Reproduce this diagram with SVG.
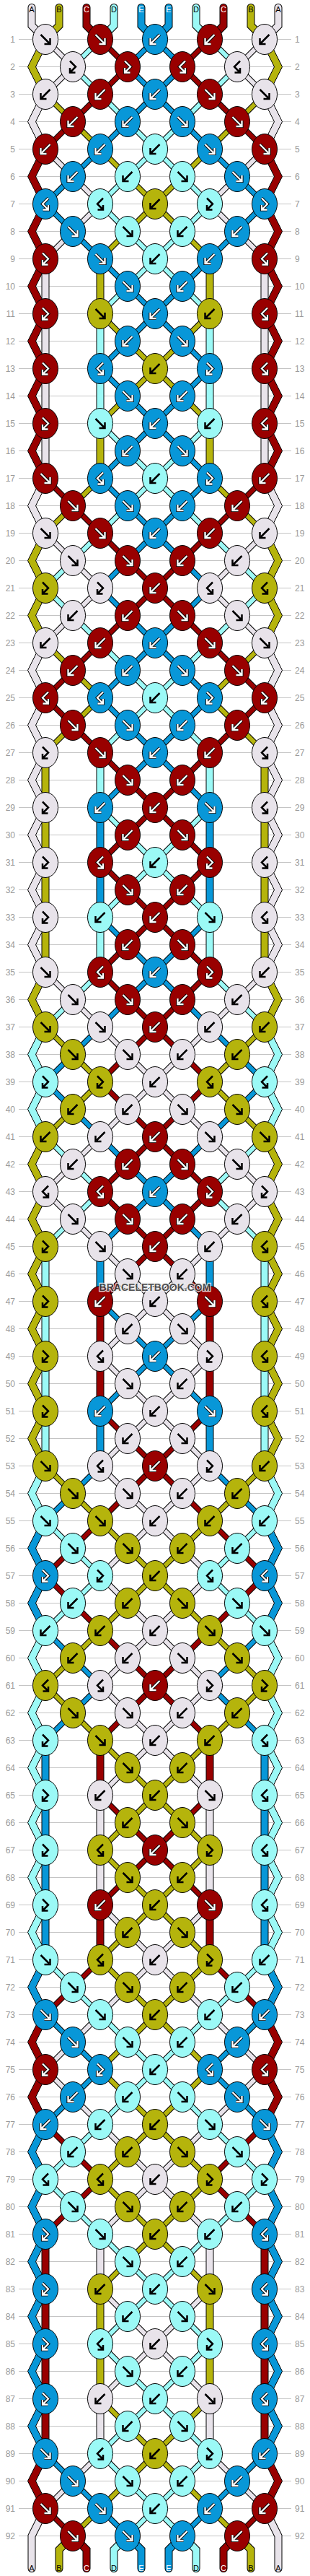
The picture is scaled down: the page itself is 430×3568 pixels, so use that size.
<svg xmlns="http://www.w3.org/2000/svg" width="430" height="3568" viewBox="0 0 430 3568">
<style>
.kL{fill:#E8E3EA}.kO{fill:#B5B40C}.kR{fill:#990000}.kC{fill:#9BF9F6}.kU{fill:#0897D8}
.sL{stroke:#E8E3EA}.sO{stroke:#B5B40C}.sR{stroke:#990000}.sC{stroke:#9BF9F6}.sU{stroke:#0897D8}
.ob{stroke:#000}
.d{fill:none;stroke-width:6}.d.ob{stroke-width:8}
.t{fill:none;stroke-width:9;stroke-linecap:round}.t.ob{stroke-width:11}
ellipse{stroke:#000;stroke-width:1}
.zz{stroke:#000;stroke-width:1}
.ak{fill:none;stroke:#000;stroke-width:2.5}
.ao{fill:none;stroke:#000;stroke-width:4.2}
.aw{fill:none;stroke:#fff;stroke-width:2.3}
.rl{stroke:#C4C4C4;stroke-width:1;fill:none}
.rn{font-family:"Liberation Sans",Arial,sans-serif;font-size:12px;fill:#9A9A9A}
.lb{font-family:"Liberation Sans",Arial,sans-serif;font-size:11px;text-anchor:middle}
.wm{font-family:"Liberation Sans",Arial,sans-serif;font-size:14px;font-weight:bold;text-anchor:middle;fill:#3C3C3C;stroke:#F0F0F0;stroke-width:2.5;paint-order:stroke;opacity:0.85}
</style>
<defs>
<path id="af" d="M-6.5-6.5L5 5M6.5-1.5V6.5H-1.5"/>
<path id="ab" d="M6.5-6.5L-5 5M-6.5-1.5V6.5H1.5"/>
<path id="aF" d="M-4-8L4 0-4 8M-4 1.5V8H3.5"/>
<path id="aB" d="M4-8L-4 0 4 8M4 1.5V8H-3.5"/>
<ellipse id="eL" class="kL" rx="17.5" ry="21"/>
<ellipse id="eO" class="kO" rx="17.5" ry="21"/>
<ellipse id="eR" class="kR" rx="17.5" ry="21"/>
<ellipse id="eC" class="kC" rx="17.5" ry="21"/>
<ellipse id="eU" class="kU" rx="17.5" ry="21"/>
<g id="Lf"><use href="#eL"/><use href="#af" class="ak"/></g>
<g id="Lb"><use href="#eL"/><use href="#ab" class="ak"/></g>
<g id="LF"><use href="#eL"/><use href="#aF" class="ak"/></g>
<g id="LB"><use href="#eL"/><use href="#aB" class="ak"/></g>
<g id="Of"><use href="#eO"/><use href="#af" class="ak"/></g>
<g id="Ob"><use href="#eO"/><use href="#ab" class="ak"/></g>
<g id="OF"><use href="#eO"/><use href="#aF" class="ak"/></g>
<g id="OB"><use href="#eO"/><use href="#aB" class="ak"/></g>
<g id="Cf"><use href="#eC"/><use href="#af" class="ak"/></g>
<g id="Cb"><use href="#eC"/><use href="#ab" class="ak"/></g>
<g id="CF"><use href="#eC"/><use href="#aF" class="ak"/></g>
<g id="CB"><use href="#eC"/><use href="#aB" class="ak"/></g>
<g id="Rf"><use href="#eR"/><use href="#af" class="ao"/><use href="#af" class="aw"/></g>
<g id="Rb"><use href="#eR"/><use href="#ab" class="ao"/><use href="#ab" class="aw"/></g>
<g id="RF"><use href="#eR"/><use href="#aF" class="ao"/><use href="#aF" class="aw"/></g>
<g id="RB"><use href="#eR"/><use href="#aB" class="ao"/><use href="#aB" class="aw"/></g>
<g id="Uf"><use href="#eU"/><use href="#af" class="ao"/><use href="#af" class="aw"/></g>
<g id="Ub"><use href="#eU"/><use href="#ab" class="ao"/><use href="#ab" class="aw"/></g>
<g id="UF"><use href="#eU"/><use href="#aF" class="ao"/><use href="#aF" class="aw"/></g>
<g id="UB"><use href="#eU"/><use href="#aB" class="ao"/><use href="#aB" class="aw"/></g>
<polygon id="z" class="zz" points="57.5,0 38.5,38 57.5,76 68.5,76 49.5,38 68.5,0"/>
<path id="tL" d="M44 -6V19L63 38M63 342V646M139 2470V2622M139 3078V3154M139 3306V3382M63 3458L44 3496V3541"/>
<path id="tO" d="M82 -6V19L63 38M63 1026V1330M139 342V418M139 570V646M139 3154V3306M101 3496l-19 19V3541"/>
<path id="tR" d="M120 -6V19L139 38M63 3078V3382M139 1786V1938M139 2394V2470M139 2622V2698M101 3496l19 19V3541"/>
<path id="tC" d="M158 -6V19L139 38M63 1710V2014M139 418V570M139 1026V1102M139 1254V1330M177 3496l-19 19V3541"/>
<path id="tU" d="M196 -6V19L215 38M63 2394V2698M139 1102V1254M139 1710V1786M139 1938V2014M177 3496l19 19V3541"/>
<path id="dL" d="M63 38l38 38-38 38M63 190l38 38M101 304l-38 38M63 722l38 38M101 836l-38 38M63 1330l38 38M101 1596l-38 38 38 38M101 2812l-38 38 38 38M101 3420l-38 38M101 228l38 38-38 38M101 760l38 38-38 38M101 1368l38 38M139 1558l-38 38M101 1672l38 38M139 2774l-38 38M101 2888l38 38M139 3382l-38 38M139 1406l38 38M177 1520l-38 38M139 1710l38 38M177 1824l-38 38 38 38M177 1976l-38 38 38 38M177 2128l-38 38 38 38M177 2280l-38 38 38 38M177 2432l-38 38M139 2622l38 38M177 2736l-38 38M139 2926l38 38M177 3040l-38 38M139 3154l38 38M177 3268l-38 38M177 1444l38 38-38 38M177 1748l38 38-38 38M177 1900l38 38-38 38M177 2052l38 38-38 38M177 2204l38 38-38 38M177 2356l38 38-38 38M177 2660l38 38-38 38M177 2964l38 38-38 38M177 3192l38 38-38 38"/>
<path id="dO" d="M63 114l38 38M101 684l-38 38M63 874l38 38M101 988l-38 38M63 1406l38 38M101 1520l-38 38M63 2014l38 38M101 2280l-38 38 38 38M101 152l38 38M139 646l-38 38M101 912l38 38-38 38M101 1444l38 38-38 38M101 2052l38 38M139 2242l-38 38M101 2356l38 38M139 3458l-38 38M139 190l38 38M177 304l-38 38M139 418l38 38M177 532l-38 38M139 2090l38 38M177 2204l-38 38M139 2394l38 38M177 2508l-38 38 38 38M177 2660l-38 38 38 38M177 2812l-38 38 38 38M177 2964l-38 38 38 38M177 3116l-38 38M139 3306l38 38M177 3420l-38 38M177 228l38 38-38 38M177 456l38 38-38 38M177 2128l38 38-38 38M177 2432l38 38-38 38M177 2584l38 38-38 38M177 2736l38 38-38 38M177 2888l38 38-38 38M177 3040l38 38-38 38M177 3344l38 38-38 38"/>
<path id="dR" d="M101 152l-38 38M63 646l38 38M101 912l-38 38 38 38M101 2128l-38 38 38 38M101 2736l-38 38M63 2926l38 38M101 3040l-38 38M63 3458l38 38M139 114l-38 38M101 684l38 38M139 874l-38 38M101 988l38 38M139 2090l-38 38M101 2204l38 38M139 2698l-38 38M101 2964l38 38-38 38M139 38l38 38-38 38M139 722l38 38M177 836l-38 38M139 1026l38 38M177 1140l-38 38 38 38M177 1292l-38 38 38 38M177 1444l-38 38 38 38M177 1596l-38 38 38 38M177 1748l-38 38M139 1938l38 38M177 2052l-38 38M139 2242l38 38M177 2356l-38 38M139 2470l38 38M177 2584l-38 38M177 760l38 38-38 38M177 1064l38 38-38 38M177 1216l38 38-38 38M177 1368l38 38-38 38M177 1520l38 38-38 38M177 1672l38 38-38 38M177 1976l38 38-38 38M177 2280l38 38-38 38M177 2508l38 38-38 38"/>
<path id="dC" d="M101 760l-38 38 38 38M101 1368l-38 38M63 1558l38 38M101 1672l-38 38M63 2090l38 38M101 2204l-38 38M63 2698l38 38M101 2964l-38 38 38 38M139 38l-38 38 38 38M139 722l-38 38M101 836l38 38M139 1330l-38 38M101 1596l38 38-38 38M101 2128l38 38-38 38M101 2736l38 38M139 2926l-38 38M101 3040l38 38M139 114l38 38M177 228l-38 38 38 38M177 380l-38 38M139 570l38 38M177 684l-38 38M139 874l38 38M177 988l-38 38M139 1102l38 38M177 1216l-38 38M139 2774l38 38M177 2888l-38 38M139 3078l38 38M177 3192l-38 38 38 38M177 3344l-38 38 38 38M177 152l38 38-38 38M177 304l38 38-38 38M177 608l38 38-38 38M177 912l38 38-38 38M177 1140l38 38-38 38M177 2812l38 38-38 38M177 3116l38 38-38 38M177 3268l38 38-38 38M177 3420l38 38-38 38"/>
<path id="dU" d="M101 228l-38 38 38 38M101 1444l-38 38 38 38M101 2052l-38 38M63 2242l38 38M101 2356l-38 38M63 2774l38 38M101 2888l-38 38M63 3382l38 38M139 190l-38 38M101 304l38 38M139 1406l-38 38M101 1520l38 38M139 2014l-38 38M101 2280l38 38-38 38M101 2812l38 38-38 38M101 3420l38 38M177 152l-38 38M139 342l38 38M177 456l-38 38 38 38M177 608l-38 38 38 38M177 760l-38 38 38 38M177 912l-38 38 38 38M177 1064l-38 38M139 1254l38 38M177 1368l-38 38M139 1558l38 38M177 1672l-38 38M139 1786l38 38M177 1900l-38 38M139 3458l38 38M215 38L177 76l38 38-38 38M177 380l38 38-38 38M177 532l38 38-38 38M177 684l38 38-38 38M177 836l38 38-38 38M177 988l38 38-38 38M177 1292l38 38-38 38M177 1596l38 38-38 38M177 1824l38 38-38 38"/>
</defs>
<rect width="430" height="3568" fill="#fff"/>
<g id="rowlines" transform="translate(0,16.5)">
<path class="rl" d="M26 38H404M26 76H404M26 114H404M26 152H404M26 190H404M26 228H404M26 266H404M26 304H404M26 342H404M26 380H404M26 418H404M26 456H404M26 494H404M26 532H404M26 570H404M26 608H404M26 646H404M26 684H404M26 722H404M26 760H404M26 798H404M26 836H404M26 874H404M26 912H404M26 950H404M26 988H404M26 1026H404M26 1064H404M26 1102H404M26 1140H404M26 1178H404M26 1216H404M26 1254H404M26 1292H404M26 1330H404M26 1368H404M26 1406H404M26 1444H404M26 1482H404M26 1520H404M26 1558H404M26 1596H404M26 1634H404M26 1672H404M26 1710H404M26 1748H404M26 1786H404M26 1824H404M26 1862H404M26 1900H404M26 1938H404M26 1976H404M26 2014H404M26 2052H404M26 2090H404M26 2128H404M26 2166H404M26 2204H404M26 2242H404M26 2280H404M26 2318H404M26 2356H404M26 2394H404M26 2432H404M26 2470H404M26 2508H404M26 2546H404M26 2584H404M26 2622H404M26 2660H404M26 2698H404M26 2736H404M26 2774H404M26 2812H404M26 2850H404M26 2888H404M26 2926H404M26 2964H404M26 3002H404M26 3040H404M26 3078H404M26 3116H404M26 3154H404M26 3192H404M26 3230H404M26 3268H404M26 3306H404M26 3344H404M26 3382H404M26 3420H404M26 3458H404M26 3496H404"/>
</g>
<g id="strings" transform="translate(0,16.5)">
<g id="sl">
<use href="#tL" class="t ob"/><use href="#tO" class="t ob"/><use href="#tR" class="t ob"/><use href="#tC" class="t ob"/><use href="#tU" class="t ob"/>
<use href="#dL" class="d ob"/><use href="#dO" class="d ob"/><use href="#dR" class="d ob"/><use href="#dC" class="d ob"/><use href="#dU" class="d ob"/>
<use href="#tL" class="t sL"/><use href="#tO" class="t sO"/><use href="#tR" class="t sR"/><use href="#tC" class="t sC"/><use href="#tU" class="t sU"/>
<use href="#dL" class="d sL"/><use href="#dO" class="d sO"/><use href="#dR" class="d sR"/><use href="#dC" class="d sC"/><use href="#dU" class="d sU"/>
<use href="#z" y="38" class="kO"/><use href="#z" y="114" class="kL"/><use href="#z" y="190" class="kR"/><use href="#z" y="266" class="kR"/><use href="#z" y="342" class="kR"/><use href="#z" y="418" class="kR"/><use href="#z" y="494" class="kR"/><use href="#z" y="570" class="kR"/><use href="#z" y="646" class="kL"/><use href="#z" y="722" class="kO"/><use href="#z" y="798" class="kO"/><use href="#z" y="874" class="kL"/><use href="#z" y="950" class="kL"/><use href="#z" y="1026" class="kL"/><use href="#z" y="1102" class="kL"/><use href="#z" y="1178" class="kL"/><use href="#z" y="1254" class="kL"/><use href="#z" y="1330" class="kO"/><use href="#z" y="1406" class="kC"/><use href="#z" y="1482" class="kC"/><use href="#z" y="1558" class="kO"/><use href="#z" y="1634" class="kO"/><use href="#z" y="1710" class="kO"/><use href="#z" y="1786" class="kO"/><use href="#z" y="1862" class="kO"/><use href="#z" y="1938" class="kO"/><use href="#z" y="2014" class="kC"/><use href="#z" y="2090" class="kU"/><use href="#z" y="2166" class="kU"/><use href="#z" y="2242" class="kC"/><use href="#z" y="2318" class="kC"/><use href="#z" y="2394" class="kC"/><use href="#z" y="2470" class="kC"/><use href="#z" y="2546" class="kC"/><use href="#z" y="2622" class="kC"/><use href="#z" y="2698" class="kU"/><use href="#z" y="2774" class="kR"/><use href="#z" y="2850" class="kR"/><use href="#z" y="2926" class="kU"/><use href="#z" y="3002" class="kU"/><use href="#z" y="3078" class="kU"/><use href="#z" y="3154" class="kU"/><use href="#z" y="3230" class="kU"/><use href="#z" y="3306" class="kU"/><use href="#z" y="3382" class="kR"/>
</g>
<use href="#sl" transform="matrix(-1 0 0 1 430 0)"/>
</g>
<g id="knots" transform="translate(0,16.5)">
<g id="kl">
<g id="row1"><use href="#Lf" x="63" y="38"/><use href="#Rf" x="139" y="38"/></g>
<g id="row2"><use href="#LF" x="101" y="76"/><use href="#RF" x="177" y="76"/></g>
<g id="row3"><use href="#Lb" x="63" y="114"/><use href="#Rb" x="139" y="114"/></g>
<g id="row4"><use href="#Rb" x="101" y="152"/><use href="#Ub" x="177" y="152"/></g>
<g id="row5"><use href="#Rb" x="63" y="190"/><use href="#Ub" x="139" y="190"/></g>
<g id="row6"><use href="#Ub" x="101" y="228"/><use href="#Cb" x="177" y="228"/></g>
<g id="row7"><use href="#UB" x="63" y="266"/><use href="#CB" x="139" y="266"/></g>
<g id="row8"><use href="#Uf" x="101" y="304"/><use href="#Cf" x="177" y="304"/></g>
<g id="row9"><use href="#RF" x="63" y="342"/><use href="#Uf" x="139" y="342"/></g>
<g id="row10"><use href="#Uf" x="177" y="380"/></g>
<g id="row11"><use href="#RF" x="63" y="418"/><use href="#Of" x="139" y="418"/></g>
<g id="row12"><use href="#Ub" x="177" y="456"/></g>
<g id="row13"><use href="#RF" x="63" y="494"/><use href="#UB" x="139" y="494"/></g>
<g id="row14"><use href="#Uf" x="177" y="532"/></g>
<g id="row15"><use href="#RF" x="63" y="570"/><use href="#Cf" x="139" y="570"/></g>
<g id="row16"><use href="#Ub" x="177" y="608"/></g>
<g id="row17"><use href="#Rf" x="63" y="646"/><use href="#UB" x="139" y="646"/></g>
<g id="row18"><use href="#Rf" x="101" y="684"/><use href="#Uf" x="177" y="684"/></g>
<g id="row19"><use href="#Lf" x="63" y="722"/><use href="#Rf" x="139" y="722"/></g>
<g id="row20"><use href="#Lf" x="101" y="760"/><use href="#Rf" x="177" y="760"/></g>
<g id="row21"><use href="#OF" x="63" y="798"/><use href="#LF" x="139" y="798"/></g>
<g id="row22"><use href="#Lb" x="101" y="836"/><use href="#Rb" x="177" y="836"/></g>
<g id="row23"><use href="#Lb" x="63" y="874"/><use href="#Rb" x="139" y="874"/></g>
<g id="row24"><use href="#Rb" x="101" y="912"/><use href="#Ub" x="177" y="912"/></g>
<g id="row25"><use href="#RB" x="63" y="950"/><use href="#UB" x="139" y="950"/></g>
<g id="row26"><use href="#Rf" x="101" y="988"/><use href="#Uf" x="177" y="988"/></g>
<g id="row27"><use href="#LF" x="63" y="1026"/><use href="#Rf" x="139" y="1026"/></g>
<g id="row28"><use href="#Rf" x="177" y="1064"/></g>
<g id="row29"><use href="#LF" x="63" y="1102"/><use href="#Ub" x="139" y="1102"/></g>
<g id="row30"><use href="#Rb" x="177" y="1140"/></g>
<g id="row31"><use href="#LF" x="63" y="1178"/><use href="#RB" x="139" y="1178"/></g>
<g id="row32"><use href="#Rf" x="177" y="1216"/></g>
<g id="row33"><use href="#LF" x="63" y="1254"/><use href="#Cb" x="139" y="1254"/></g>
<g id="row34"><use href="#Rb" x="177" y="1292"/></g>
<g id="row35"><use href="#Lf" x="63" y="1330"/><use href="#RB" x="139" y="1330"/></g>
<g id="row36"><use href="#Lf" x="101" y="1368"/><use href="#Rf" x="177" y="1368"/></g>
<g id="row37"><use href="#Of" x="63" y="1406"/><use href="#Lf" x="139" y="1406"/></g>
<g id="row38"><use href="#Of" x="101" y="1444"/><use href="#Lf" x="177" y="1444"/></g>
<g id="row39"><use href="#CF" x="63" y="1482"/><use href="#OF" x="139" y="1482"/></g>
<g id="row40"><use href="#Ob" x="101" y="1520"/><use href="#Lb" x="177" y="1520"/></g>
<g id="row41"><use href="#Ob" x="63" y="1558"/><use href="#Lb" x="139" y="1558"/></g>
<g id="row42"><use href="#Lb" x="101" y="1596"/><use href="#Rb" x="177" y="1596"/></g>
<g id="row43"><use href="#LB" x="63" y="1634"/><use href="#RB" x="139" y="1634"/></g>
<g id="row44"><use href="#Lf" x="101" y="1672"/><use href="#Rf" x="177" y="1672"/></g>
<g id="row45"><use href="#OF" x="63" y="1710"/><use href="#Lf" x="139" y="1710"/></g>
<g id="row46"><use href="#Lf" x="177" y="1748"/></g>
<g id="row47"><use href="#OF" x="63" y="1786"/><use href="#Rb" x="139" y="1786"/></g>
<g id="row48"><use href="#Lb" x="177" y="1824"/></g>
<g id="row49"><use href="#OF" x="63" y="1862"/><use href="#LB" x="139" y="1862"/></g>
<g id="row50"><use href="#Lf" x="177" y="1900"/></g>
<g id="row51"><use href="#OF" x="63" y="1938"/><use href="#Ub" x="139" y="1938"/></g>
<g id="row52"><use href="#Lb" x="177" y="1976"/></g>
<g id="row53"><use href="#Of" x="63" y="2014"/><use href="#LB" x="139" y="2014"/></g>
<g id="row54"><use href="#Of" x="101" y="2052"/><use href="#Lf" x="177" y="2052"/></g>
<g id="row55"><use href="#Cf" x="63" y="2090"/><use href="#Of" x="139" y="2090"/></g>
<g id="row56"><use href="#Cf" x="101" y="2128"/><use href="#Of" x="177" y="2128"/></g>
<g id="row57"><use href="#UF" x="63" y="2166"/><use href="#CF" x="139" y="2166"/></g>
<g id="row58"><use href="#Cb" x="101" y="2204"/><use href="#Ob" x="177" y="2204"/></g>
<g id="row59"><use href="#Cb" x="63" y="2242"/><use href="#Ob" x="139" y="2242"/></g>
<g id="row60"><use href="#Ob" x="101" y="2280"/><use href="#Lb" x="177" y="2280"/></g>
<g id="row61"><use href="#OB" x="63" y="2318"/><use href="#LB" x="139" y="2318"/></g>
<g id="row62"><use href="#Of" x="101" y="2356"/><use href="#Lf" x="177" y="2356"/></g>
<g id="row63"><use href="#CF" x="63" y="2394"/><use href="#Of" x="139" y="2394"/></g>
<g id="row64"><use href="#Of" x="177" y="2432"/></g>
<g id="row65"><use href="#CF" x="63" y="2470"/><use href="#Lb" x="139" y="2470"/></g>
<g id="row66"><use href="#Ob" x="177" y="2508"/></g>
<g id="row67"><use href="#CF" x="63" y="2546"/><use href="#OB" x="139" y="2546"/></g>
<g id="row68"><use href="#Of" x="177" y="2584"/></g>
<g id="row69"><use href="#CF" x="63" y="2622"/><use href="#Rb" x="139" y="2622"/></g>
<g id="row70"><use href="#Ob" x="177" y="2660"/></g>
<g id="row71"><use href="#Cf" x="63" y="2698"/><use href="#OB" x="139" y="2698"/></g>
<g id="row72"><use href="#Cf" x="101" y="2736"/><use href="#Of" x="177" y="2736"/></g>
<g id="row73"><use href="#Uf" x="63" y="2774"/><use href="#Cf" x="139" y="2774"/></g>
<g id="row74"><use href="#Uf" x="101" y="2812"/><use href="#Cf" x="177" y="2812"/></g>
<g id="row75"><use href="#RF" x="63" y="2850"/><use href="#UF" x="139" y="2850"/></g>
<g id="row76"><use href="#Ub" x="101" y="2888"/><use href="#Cb" x="177" y="2888"/></g>
<g id="row77"><use href="#Ub" x="63" y="2926"/><use href="#Cb" x="139" y="2926"/></g>
<g id="row78"><use href="#Cb" x="101" y="2964"/><use href="#Ob" x="177" y="2964"/></g>
<g id="row79"><use href="#CB" x="63" y="3002"/><use href="#OB" x="139" y="3002"/></g>
<g id="row80"><use href="#Cf" x="101" y="3040"/><use href="#Of" x="177" y="3040"/></g>
<g id="row81"><use href="#UF" x="63" y="3078"/><use href="#Cf" x="139" y="3078"/></g>
<g id="row82"><use href="#Cf" x="177" y="3116"/></g>
<g id="row83"><use href="#UF" x="63" y="3154"/><use href="#Ob" x="139" y="3154"/></g>
<g id="row84"><use href="#Cb" x="177" y="3192"/></g>
<g id="row85"><use href="#UF" x="63" y="3230"/><use href="#CB" x="139" y="3230"/></g>
<g id="row86"><use href="#Cf" x="177" y="3268"/></g>
<g id="row87"><use href="#UF" x="63" y="3306"/><use href="#Lb" x="139" y="3306"/></g>
<g id="row88"><use href="#Cb" x="177" y="3344"/></g>
<g id="row89"><use href="#Uf" x="63" y="3382"/><use href="#CB" x="139" y="3382"/></g>
<g id="row90"><use href="#Uf" x="101" y="3420"/><use href="#Cf" x="177" y="3420"/></g>
<g id="row91"><use href="#Rf" x="63" y="3458"/><use href="#Uf" x="139" y="3458"/></g>
<g id="row92"><use href="#Rf" x="101" y="3496"/><use href="#Uf" x="177" y="3496"/></g>
</g>
<use href="#kl" transform="matrix(-1 0 0 1 430 0)"/>
<g id="kc">
<use href="#Ub" x="215" y="38"/><use href="#Ub" x="215" y="114"/><use href="#Cb" x="215" y="190"/><use href="#Ob" x="215" y="266"/><use href="#Cb" x="215" y="342"/><use href="#Ub" x="215" y="418"/><use href="#Ob" x="215" y="494"/><use href="#Ub" x="215" y="570"/><use href="#Cb" x="215" y="646"/><use href="#Ub" x="215" y="722"/><use href="#Rb" x="215" y="798"/><use href="#Ub" x="215" y="874"/><use href="#Cb" x="215" y="950"/><use href="#Ub" x="215" y="1026"/><use href="#Rb" x="215" y="1102"/><use href="#Cb" x="215" y="1178"/><use href="#Rb" x="215" y="1254"/><use href="#Ub" x="215" y="1330"/><use href="#Rb" x="215" y="1406"/><use href="#Lb" x="215" y="1482"/><use href="#Rb" x="215" y="1558"/><use href="#Ub" x="215" y="1634"/><use href="#Rb" x="215" y="1710"/><use href="#Lb" x="215" y="1786"/><use href="#Ub" x="215" y="1862"/><use href="#Lb" x="215" y="1938"/><use href="#Rb" x="215" y="2014"/><use href="#Lb" x="215" y="2090"/><use href="#Ob" x="215" y="2166"/><use href="#Lb" x="215" y="2242"/><use href="#Rb" x="215" y="2318"/><use href="#Lb" x="215" y="2394"/><use href="#Ob" x="215" y="2470"/><use href="#Rb" x="215" y="2546"/><use href="#Ob" x="215" y="2622"/><use href="#Lb" x="215" y="2698"/><use href="#Ob" x="215" y="2774"/><use href="#Cb" x="215" y="2850"/><use href="#Ob" x="215" y="2926"/><use href="#Lb" x="215" y="3002"/><use href="#Ob" x="215" y="3078"/><use href="#Cb" x="215" y="3154"/><use href="#Lb" x="215" y="3230"/><use href="#Cb" x="215" y="3306"/><use href="#Ob" x="215" y="3382"/><use href="#Cb" x="215" y="3458"/>
</g>
</g>
<g id="rownumbers" class="rn" transform="translate(0,21)">
<text text-anchor="end"><tspan x="21" y="38">1</tspan><tspan x="21" y="76">2</tspan><tspan x="21" y="114">3</tspan><tspan x="21" y="152">4</tspan><tspan x="21" y="190">5</tspan><tspan x="21" y="228">6</tspan><tspan x="21" y="266">7</tspan><tspan x="21" y="304">8</tspan><tspan x="21" y="342">9</tspan><tspan x="21" y="380">10</tspan><tspan x="21" y="418">11</tspan><tspan x="21" y="456">12</tspan><tspan x="21" y="494">13</tspan><tspan x="21" y="532">14</tspan><tspan x="21" y="570">15</tspan><tspan x="21" y="608">16</tspan><tspan x="21" y="646">17</tspan><tspan x="21" y="684">18</tspan><tspan x="21" y="722">19</tspan><tspan x="21" y="760">20</tspan><tspan x="21" y="798">21</tspan><tspan x="21" y="836">22</tspan><tspan x="21" y="874">23</tspan><tspan x="21" y="912">24</tspan><tspan x="21" y="950">25</tspan><tspan x="21" y="988">26</tspan><tspan x="21" y="1026">27</tspan><tspan x="21" y="1064">28</tspan><tspan x="21" y="1102">29</tspan><tspan x="21" y="1140">30</tspan><tspan x="21" y="1178">31</tspan><tspan x="21" y="1216">32</tspan><tspan x="21" y="1254">33</tspan><tspan x="21" y="1292">34</tspan><tspan x="21" y="1330">35</tspan><tspan x="21" y="1368">36</tspan><tspan x="21" y="1406">37</tspan><tspan x="21" y="1444">38</tspan><tspan x="21" y="1482">39</tspan><tspan x="21" y="1520">40</tspan><tspan x="21" y="1558">41</tspan><tspan x="21" y="1596">42</tspan><tspan x="21" y="1634">43</tspan><tspan x="21" y="1672">44</tspan><tspan x="21" y="1710">45</tspan><tspan x="21" y="1748">46</tspan><tspan x="21" y="1786">47</tspan><tspan x="21" y="1824">48</tspan><tspan x="21" y="1862">49</tspan><tspan x="21" y="1900">50</tspan><tspan x="21" y="1938">51</tspan><tspan x="21" y="1976">52</tspan><tspan x="21" y="2014">53</tspan><tspan x="21" y="2052">54</tspan><tspan x="21" y="2090">55</tspan><tspan x="21" y="2128">56</tspan><tspan x="21" y="2166">57</tspan><tspan x="21" y="2204">58</tspan><tspan x="21" y="2242">59</tspan><tspan x="21" y="2280">60</tspan><tspan x="21" y="2318">61</tspan><tspan x="21" y="2356">62</tspan><tspan x="21" y="2394">63</tspan><tspan x="21" y="2432">64</tspan><tspan x="21" y="2470">65</tspan><tspan x="21" y="2508">66</tspan><tspan x="21" y="2546">67</tspan><tspan x="21" y="2584">68</tspan><tspan x="21" y="2622">69</tspan><tspan x="21" y="2660">70</tspan><tspan x="21" y="2698">71</tspan><tspan x="21" y="2736">72</tspan><tspan x="21" y="2774">73</tspan><tspan x="21" y="2812">74</tspan><tspan x="21" y="2850">75</tspan><tspan x="21" y="2888">76</tspan><tspan x="21" y="2926">77</tspan><tspan x="21" y="2964">78</tspan><tspan x="21" y="3002">79</tspan><tspan x="21" y="3040">80</tspan><tspan x="21" y="3078">81</tspan><tspan x="21" y="3116">82</tspan><tspan x="21" y="3154">83</tspan><tspan x="21" y="3192">84</tspan><tspan x="21" y="3230">85</tspan><tspan x="21" y="3268">86</tspan><tspan x="21" y="3306">87</tspan><tspan x="21" y="3344">88</tspan><tspan x="21" y="3382">89</tspan><tspan x="21" y="3420">90</tspan><tspan x="21" y="3458">91</tspan><tspan x="21" y="3496">92</tspan></text>
<text><tspan x="409" y="38">1</tspan><tspan x="409" y="76">2</tspan><tspan x="409" y="114">3</tspan><tspan x="409" y="152">4</tspan><tspan x="409" y="190">5</tspan><tspan x="409" y="228">6</tspan><tspan x="409" y="266">7</tspan><tspan x="409" y="304">8</tspan><tspan x="409" y="342">9</tspan><tspan x="409" y="380">10</tspan><tspan x="409" y="418">11</tspan><tspan x="409" y="456">12</tspan><tspan x="409" y="494">13</tspan><tspan x="409" y="532">14</tspan><tspan x="409" y="570">15</tspan><tspan x="409" y="608">16</tspan><tspan x="409" y="646">17</tspan><tspan x="409" y="684">18</tspan><tspan x="409" y="722">19</tspan><tspan x="409" y="760">20</tspan><tspan x="409" y="798">21</tspan><tspan x="409" y="836">22</tspan><tspan x="409" y="874">23</tspan><tspan x="409" y="912">24</tspan><tspan x="409" y="950">25</tspan><tspan x="409" y="988">26</tspan><tspan x="409" y="1026">27</tspan><tspan x="409" y="1064">28</tspan><tspan x="409" y="1102">29</tspan><tspan x="409" y="1140">30</tspan><tspan x="409" y="1178">31</tspan><tspan x="409" y="1216">32</tspan><tspan x="409" y="1254">33</tspan><tspan x="409" y="1292">34</tspan><tspan x="409" y="1330">35</tspan><tspan x="409" y="1368">36</tspan><tspan x="409" y="1406">37</tspan><tspan x="409" y="1444">38</tspan><tspan x="409" y="1482">39</tspan><tspan x="409" y="1520">40</tspan><tspan x="409" y="1558">41</tspan><tspan x="409" y="1596">42</tspan><tspan x="409" y="1634">43</tspan><tspan x="409" y="1672">44</tspan><tspan x="409" y="1710">45</tspan><tspan x="409" y="1748">46</tspan><tspan x="409" y="1786">47</tspan><tspan x="409" y="1824">48</tspan><tspan x="409" y="1862">49</tspan><tspan x="409" y="1900">50</tspan><tspan x="409" y="1938">51</tspan><tspan x="409" y="1976">52</tspan><tspan x="409" y="2014">53</tspan><tspan x="409" y="2052">54</tspan><tspan x="409" y="2090">55</tspan><tspan x="409" y="2128">56</tspan><tspan x="409" y="2166">57</tspan><tspan x="409" y="2204">58</tspan><tspan x="409" y="2242">59</tspan><tspan x="409" y="2280">60</tspan><tspan x="409" y="2318">61</tspan><tspan x="409" y="2356">62</tspan><tspan x="409" y="2394">63</tspan><tspan x="409" y="2432">64</tspan><tspan x="409" y="2470">65</tspan><tspan x="409" y="2508">66</tspan><tspan x="409" y="2546">67</tspan><tspan x="409" y="2584">68</tspan><tspan x="409" y="2622">69</tspan><tspan x="409" y="2660">70</tspan><tspan x="409" y="2698">71</tspan><tspan x="409" y="2736">72</tspan><tspan x="409" y="2774">73</tspan><tspan x="409" y="2812">74</tspan><tspan x="409" y="2850">75</tspan><tspan x="409" y="2888">76</tspan><tspan x="409" y="2926">77</tspan><tspan x="409" y="2964">78</tspan><tspan x="409" y="3002">79</tspan><tspan x="409" y="3040">80</tspan><tspan x="409" y="3078">81</tspan><tspan x="409" y="3116">82</tspan><tspan x="409" y="3154">83</tspan><tspan x="409" y="3192">84</tspan><tspan x="409" y="3230">85</tspan><tspan x="409" y="3268">86</tspan><tspan x="409" y="3306">87</tspan><tspan x="409" y="3344">88</tspan><tspan x="409" y="3382">89</tspan><tspan x="409" y="3420">90</tspan><tspan x="409" y="3458">91</tspan><tspan x="409" y="3496">92</tspan></text>
</g>
<g id="stringlabels" class="lb">
<text x="44" y="16.6">A</text><text x="82" y="16.6">B</text><text x="120" y="16.6" fill="#fff">C</text><text x="158" y="16.6">D</text><text x="196" y="16.6" fill="#fff">E</text><text x="234" y="16.6" fill="#fff">E</text><text x="272" y="16.6">D</text><text x="310" y="16.6" fill="#fff">C</text><text x="348" y="16.6">B</text><text x="386" y="16.6">A</text>
<text x="44" y="3561.3">A</text><text x="82" y="3561.3">B</text><text x="120" y="3561.3" fill="#fff">C</text><text x="158" y="3561.3">D</text><text x="196" y="3561.3" fill="#fff">E</text><text x="234" y="3561.3" fill="#fff">E</text><text x="272" y="3561.3">D</text><text x="310" y="3561.3" fill="#fff">C</text><text x="348" y="3561.3">B</text><text x="386" y="3561.3">A</text>
</g>
<text id="watermark" class="wm" x="215" y="1788">BRACELETBOOK.COM</text>
</svg>
